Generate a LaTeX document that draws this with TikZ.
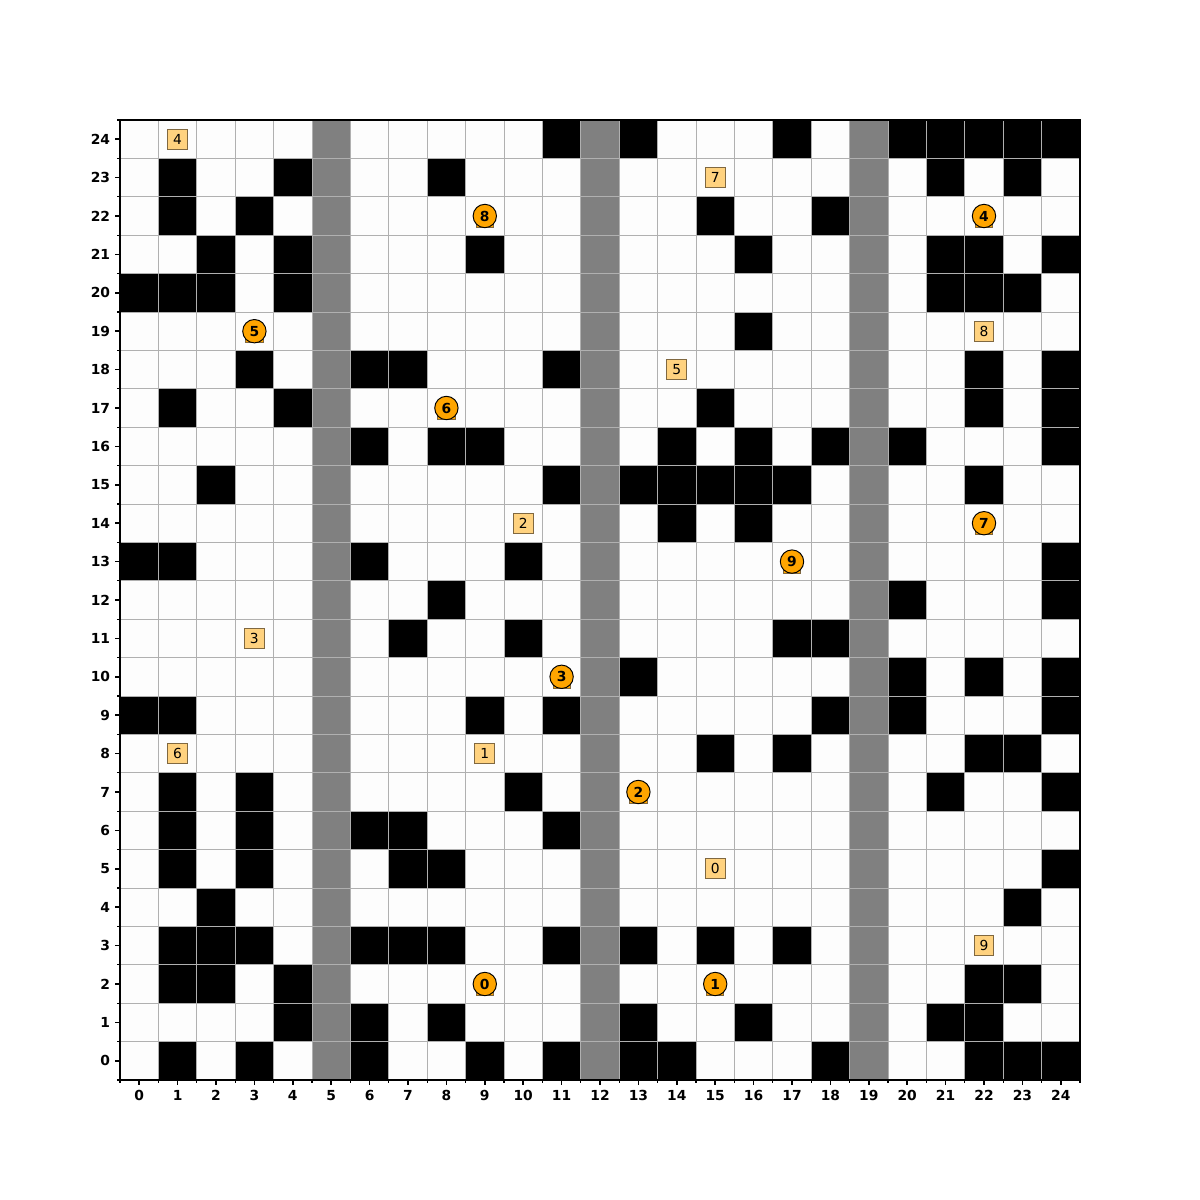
\documentclass[tikz,border=0pt]{standalone}
\usepackage{fontspec}
\setmainfont{DejaVu Sans}
\usepackage{xcolor}
\usepackage{tikz}
\usetikzlibrary{positioning}
\definecolor{mapFree}{RGB}{253,253,253}
\definecolor{mapLane}{RGB}{128,128,128}
\definecolor{mapGrid}{RGB}{176,176,176}
\definecolor{mapAgent}{RGB}{255,165,0}
\definecolor{mapGoal}{RGB}{255,210,127}
\definecolor{mapEdge}{RGB}{128,104,64}

\begin{document}
\begin{tikzpicture}[x=0.97536cm, y=0.97536cm,
    agent/.style={circle, draw=black, line width=0.7pt, fill=mapAgent, minimum size=16.9pt,
                  inner sep=0pt, font=\fontsize{10}{12}\selectfont\bfseries},
    agentbase/.style={draw=mapEdge, line width=0.6pt, fill=mapAgent, minimum size=12.5pt, inner sep=0pt},
    goal/.style={draw=mapEdge, line width=0.7pt, fill=mapGoal, minimum size=14.4pt,
                 inner sep=0pt, font=\fontsize{10}{12}\selectfont},
    gridline/.style={mapGrid, line width=0.7pt},
    tickmaj/.style={line width=1.1pt},
    tickmin/.style={line width=0.8pt},
    ticklbl/.style={font=\fontsize{10}{12}\selectfont\bfseries, inner sep=0pt}
  ]
  \useasboundingbox (-3.625,-3.625) rectangle (27.625,27.625);

  % free cells
  \fill[mapFree] (-0.5,-0.5) rectangle (24.5,24.5);

  % walls, row by row
  \foreach \r/\cs in {0/{1,3,6,9,11,13,14,18,22,23,24},
                      1/{4,6,8,13,16,21,22},
                      2/{1,2,4,22,23},
                      3/{1,2,3,6,7,8,11,13,15,17},
                      4/{2,23},
                      5/{1,3,7,8,24},
                      6/{1,3,6,7,11},
                      7/{1,3,10,21,24},
                      8/{15,17,22,23},
                      9/{0,1,9,11,18,20,24},
                      10/{13,20,22,24},
                      11/{7,10,17,18},
                      12/{8,20,24},
                      13/{0,1,6,10,24},
                      14/{14,16},
                      15/{2,11,13,14,15,16,17,22},
                      16/{6,8,9,14,16,18,20,24},
                      17/{1,4,15,22,24},
                      18/{3,6,7,11,22,24},
                      19/{16},
                      20/{0,1,2,4,21,22,23},
                      21/{2,4,9,16,21,22,24},
                      22/{1,3,15,18},
                      23/{1,4,8,21,23},
                      24/{11,13,17,20,21,22,23,24}} {
    \foreach \c in \cs {
      \fill[black] (\c-0.5,\r-0.5) rectangle ++(1,1);
    }
  }

  % lanes
  \foreach \c in {5,12,19} {
    \fill[mapLane] (\c-0.5,-0.5) rectangle ++(1,25);
  }

  % grid
  \foreach \i in {0,...,25} {
    \draw[gridline] (\i-0.5,-0.5) -- (\i-0.5,24.5);
    \draw[gridline] (-0.5,\i-0.5) -- (24.5,\i-0.5);
  }

  % axes
  \draw[line width=1.4pt] (-0.5,-0.5) rectangle (24.5,24.5);
  \foreach \i in {0,...,24} {
    \draw[tickmaj] (\i,-0.5) -- ++(0,-3.5pt);
    \draw[tickmaj] (-0.5,\i) -- ++(-3.5pt,0);
    \node[ticklbl, anchor=north] (xl\i) at ([yshift=-7pt]\i,-0.5) {\i};
    \node[ticklbl, anchor=east] (yl\i) at ([xshift=-7pt]-0.5,\i) {\i};
  }
  \foreach \i in {0,...,25} {
    \draw[tickmin] (\i-0.5,-0.5) -- ++(0,-2pt);
    \draw[tickmin] (-0.5,\i-0.5) -- ++(-2pt,0);
  }

  % goals
  \foreach \g/\c/\r in {0/15/5, 1/9/8, 2/10/14, 3/3/11, 4/1/24,
                        5/14/18, 6/1/8, 7/15/23, 8/22/19, 9/22/3} {
    \node[goal] (g\g) at (\c,\r) {\g};
  }

  % agents
  \foreach \a/\c/\r in {0/9/2, 1/15/2, 2/13/7, 3/11/10, 4/22/22,
                        5/3/19, 6/8/17, 7/22/14, 8/9/22, 9/17/13} {
    \node[agentbase] (b\a) at ([yshift=-2.2pt]\c,\r) {};
    \node[agent] (a\a) at (\c,\r) {\a};
  }
\end{tikzpicture}
\end{document}
